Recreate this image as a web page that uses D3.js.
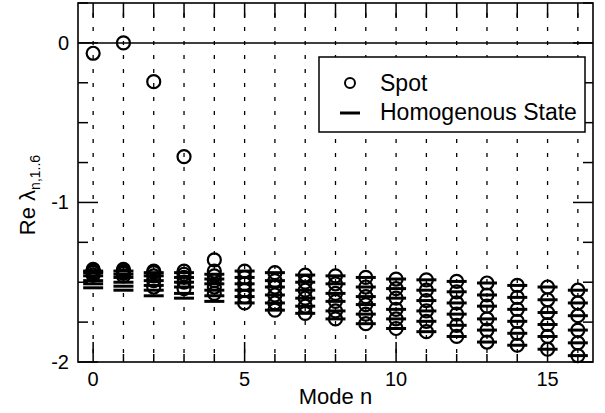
<!DOCTYPE html>
<html>
<head>
<meta charset="utf-8">
<script src="https://cdn.jsdelivr.net/npm/d3@7"></script>
<style>
  html, body { margin: 0; padding: 0; background: #fff; }
  svg { display: block; font-family: "Liberation Sans", Arial, Helvetica, sans-serif; }
</style>
</head>
<body>
<svg id="chart" width="605" height="413"></svg>
<script>
// ---- data ----
const modes = [0,1,2,3,4,5,6,7,8,9,10,11,12,13,14,15,16];
// Spot eigenvalues Re λ_{n,1..6} for each mode n
const spot = [
  [-0.065, -1.42, -1.425, -1.43, -1.44, -1.455],
  [0.0,    -1.42, -1.425, -1.435, -1.445, -1.46],
  [-0.243, -1.43, -1.44, -1.46, -1.49, -1.53],
  [-0.713, -1.43, -1.45, -1.47, -1.50, -1.54],
  [-1.36,  -1.43, -1.46, -1.49, -1.53, -1.57],
  [-1.43, -1.47, -1.51, -1.55, -1.59, -1.63],
  [-1.44, -1.49, -1.53, -1.58, -1.63, -1.675],
  [-1.455, -1.50, -1.55, -1.60, -1.65, -1.695],
  [-1.46, -1.51, -1.57, -1.62, -1.68, -1.73],
  [-1.47, -1.53, -1.59, -1.64, -1.70, -1.76],
  [-1.48, -1.54, -1.60, -1.67, -1.73, -1.79],
  [-1.485, -1.55, -1.615, -1.68, -1.745, -1.81],
  [-1.495, -1.56, -1.63, -1.70, -1.77, -1.84],
  [-1.505, -1.58, -1.65, -1.73, -1.80, -1.875],
  [-1.52, -1.595, -1.67, -1.745, -1.82, -1.895],
  [-1.53, -1.61, -1.69, -1.765, -1.84, -1.92],
  [-1.55, -1.63, -1.71, -1.80, -1.88, -1.96]
];
// Homogeneous state eigenvalues for each mode n
const homog = [
  [-1.43, -1.44, -1.46, -1.49, -1.51, -1.535],
  [-1.43, -1.45, -1.47, -1.50, -1.525, -1.55],
  [-1.44, -1.46, -1.49, -1.52, -1.55, -1.585],
  [-1.44, -1.47, -1.50, -1.53, -1.57, -1.60],
  [-1.45, -1.48, -1.51, -1.55, -1.585, -1.62],
  [-1.43, -1.47, -1.51, -1.55, -1.59, -1.63],
  [-1.44, -1.49, -1.53, -1.58, -1.63, -1.675],
  [-1.455, -1.50, -1.55, -1.60, -1.65, -1.695],
  [-1.46, -1.51, -1.57, -1.62, -1.68, -1.73],
  [-1.47, -1.53, -1.59, -1.64, -1.70, -1.76],
  [-1.48, -1.54, -1.60, -1.67, -1.73, -1.79],
  [-1.485, -1.55, -1.615, -1.68, -1.745, -1.81],
  [-1.495, -1.56, -1.63, -1.70, -1.77, -1.84],
  [-1.505, -1.58, -1.65, -1.73, -1.80, -1.875],
  [-1.52, -1.595, -1.67, -1.745, -1.82, -1.895],
  [-1.53, -1.61, -1.69, -1.765, -1.84, -1.92],
  [-1.55, -1.63, -1.71, -1.80, -1.88, -1.96]
];
const xTickLabels = [0, 5, 10, 15];
const yTickLabels = [0, -1, -2];
const legendLabels = ["Spot", "Homogenous State"];

// ---- layout ----
const svg = d3.select("#chart");
const L = 78, R = 593, T = 3, B = 362;
const x = d3.scaleLinear().domain([-0.5, 16.5]).range([L, R]);
const y = d3.scaleLinear().domain([-2, 0.25]).range([B, T]);

// dotted vertical grid
svg.append("g").selectAll("line").data(modes).join("line")
  .attr("x1", d => x(d)).attr("x2", d => x(d))
  .attr("y1", T).attr("y2", B)
  .attr("stroke", "#000").attr("stroke-width", 1.3)
  .attr("stroke-dasharray", "4,10").attr("stroke-dashoffset", -24);

// zero line
svg.append("line")
  .attr("x1", L).attr("x2", R).attr("y1", y(0)).attr("y2", y(0))
  .attr("stroke", "#000").attr("stroke-width", 1.5);

// axes ticks
const xMinor = d3.range(0, 17, 1);
const yMinor = d3.range(-2, 0.26, 0.25);
const gAx = svg.append("g").attr("stroke", "#000").attr("stroke-width", 1.5);
gAx.selectAll(".bt").data(xMinor).join("line")
  .attr("x1", d => x(d)).attr("x2", d => x(d))
  .attr("y1", B).attr("y2", d => B - (d % 5 === 0 ? 20 : 8));
gAx.selectAll(".tt").data(xMinor).join("line")
  .attr("x1", d => x(d)).attr("x2", d => x(d))
  .attr("y1", T).attr("y2", T + 15);
gAx.selectAll(".lt").data(yMinor).join("line")
  .attr("x1", L).attr("x2", d => L + (Math.abs(d - Math.round(d)) < 1e-6 ? 20 : 10))
  .attr("y1", d => y(d)).attr("y2", d => y(d));
gAx.selectAll(".rt").data(yMinor).join("line")
  .attr("x1", R).attr("x2", d => R - (Math.abs(d - Math.round(d)) < 1e-6 ? 20 : 10))
  .attr("y1", d => y(d)).attr("y2", d => y(d));

// homogeneous bars
const hPts = [];
modes.forEach((n, i) => homog[i].forEach(v => hPts.push({n, v})));
svg.append("g").selectAll("line").data(hPts).join("line")
  .attr("x1", d => x(d.n) - 10).attr("x2", d => x(d.n) + 10)
  .attr("y1", d => y(d.v)).attr("y2", d => y(d.v))
  .attr("stroke", "#000").attr("stroke-width", 3);

// spot circles
const sPts = [];
modes.forEach((n, i) => spot[i].forEach(v => sPts.push({n, v})));
svg.append("g").selectAll("circle").data(sPts).join("circle")
  .attr("cx", d => x(d.n)).attr("cy", d => y(d.v)).attr("r", 6.5)
  .attr("fill", "none").attr("stroke", "#000").attr("stroke-width", 2.2);

// frame
svg.append("rect").attr("x", L).attr("y", T).attr("width", R - L).attr("height", B - T)
  .attr("fill", "none").attr("stroke", "#000").attr("stroke-width", 1.6);

// tick labels
svg.append("g").selectAll("text").data(xTickLabels).join("text")
  .attr("x", d => x(d)).attr("y", 386).attr("text-anchor", "middle")
  .attr("font-size", 20).text(d => d);
svg.append("g").selectAll("text").data(yTickLabels).join("text")
  .attr("x", 69).attr("y", d => y(d) + 7).attr("text-anchor", "end")
  .attr("font-size", 20).text(d => d);

// axis titles
svg.append("text").attr("x", (L + R) / 2).attr("y", 404).attr("text-anchor", "middle")
  .attr("font-size", 22).text("Mode n");
const yl = svg.append("text").attr("transform", "translate(35,195) rotate(-90)")
  .attr("text-anchor", "middle").attr("font-size", 22);
yl.append("tspan").text("Re ");
yl.append("tspan").text("λ");
yl.append("tspan").attr("font-size", 14).attr("dy", 5).text("n,1..6");

// legend
const lg = svg.append("g");
lg.append("rect").attr("x", 319).attr("y", 57).attr("width", 266).attr("height", 75)
  .attr("fill", "#fff").attr("stroke", "#000").attr("stroke-width", 1.5);
lg.append("circle").attr("cx", 350).attr("cy", 83).attr("r", 5)
  .attr("fill", "none").attr("stroke", "#000").attr("stroke-width", 2);
lg.append("line").attr("x1", 340).attr("x2", 360).attr("y1", 113).attr("y2", 113)
  .attr("stroke", "#000").attr("stroke-width", 3);
lg.selectAll("text").data(legendLabels).join("text")
  .attr("x", 380).attr("y", (d, i) => 91 + i * 29).attr("font-size", 23).text(d => d);
</script>
</body>
</html>
